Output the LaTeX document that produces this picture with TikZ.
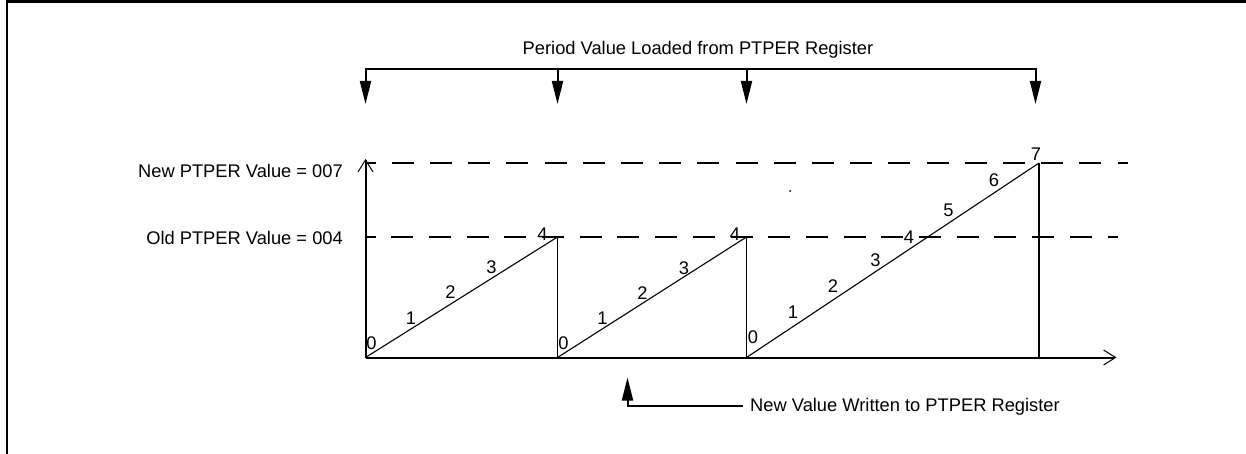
\documentclass[tikz,border=0pt]{standalone}
\usepackage{fontspec}
\setmainfont{Liberation Sans}
\usetikzlibrary{arrows.meta}
\begin{document}
\begin{tikzpicture}[x=1pt,y=-1pt,
  lbl/.style={inner sep=0pt, font=\fontsize{18.3}{22}\selectfont},
  ax/.style={line width=2pt, -{Straight Barb[length=12pt,width=15pt,line width=1pt]}},
  ramp/.style={line width=1.1pt},
  edge/.style={line width=1.5pt},
  refa/.style={line width=2pt, dash pattern=on 22pt off 16.2pt, dash phase=12pt},
  refb/.style={line width=2pt, dash pattern=on 22pt off 15.7pt, dash phase=12pt},
  pointer/.style={line width=2pt, -{Triangle[length=23pt,width=11pt]}},
  wire/.style={line width=2pt},
]
\useasboundingbox (0,0) rectangle (1246,454);
% frame (only top and left edges visible)
\draw[line width=2.5pt] (7,470) -- (7,1.5);
\draw[line width=3pt] (5.75,1.5) -- (1260,1.5);

% axis coordinates
\coordinate (O) at (365.5,357.5);
\coordinate (Ytip) at (365.5,159);
\coordinate (Xtip) at (1116.5,357.5);
\draw[ax] (O) -- (Ytip);
\draw[ax] (O) -- (Xtip);

% reference levels
\coordinate (N0) at (365.5,163);
\coordinate (N1) at (1128,163);
\coordinate (D0) at (365.5,237);
\coordinate (D1) at (1118,237);
\draw[refa] (N0) -- (N1);
\draw[refb] (D0) -- (D1);

\node[lbl, anchor=base east] (newv) at (343,178) {New PTPER Value = 007};
\node[lbl, anchor=base east] (oldv) at (343,244) {Old PTPER Value = 004};

% ramps
\coordinate (A0) at (365.5,357.5);
\coordinate (A1) at (557.5,237);
\coordinate (A1b) at (557.5,357.5);
\coordinate (B1) at (746.5,237);
\coordinate (B1b) at (746.5,357.5);
\coordinate (C1) at (1039,163);
\coordinate (C1b) at (1039,357.5);
\draw[ramp] (A0) -- (A1);
\draw[edge] (A1) -- (A1b);
\draw[ramp] (A1b) -- (B1);
\draw[edge] (B1) -- (B1b);
\draw[ramp] (B1b) -- (C1);
\draw[wire] (C1) -- (C1b);

% counts
\node[lbl] (a0) at (371.5,343) {0};
\node[lbl] (a1) at (411,318) {1};
\node[lbl] (a2) at (450.5,292.5) {2};
\node[lbl] (a3) at (491.5,267.5) {3};
\node[lbl] (a4) at (542.5,234.5) {4};
\node[lbl] (b0) at (563.5,343) {0};
\node[lbl] (b1) at (602.5,318) {1};
\node[lbl] (b2) at (642.5,293) {2};
\node[lbl] (b3) at (684,268) {3};
\node[lbl] (b4) at (735,234.5) {4};
\node[lbl] (c0) at (753,337) {0};
\node[lbl] (c1) at (793,312) {1};
\node[lbl] (c2) at (833,286) {2};
\node[lbl] (c3) at (875.5,260) {3};
\node[lbl] (c4) at (909,237) {4};
\node[lbl] (c5) at (948.5,210.5) {5};
\node[lbl] (c6) at (994,180.5) {6};
\node[lbl] (c7) at (1036,154.5) {7};

% stray dot
\fill (790,191) circle (1pt);

% top: period value loaded
\node[lbl, anchor=base] (title) at (698,55) {Period Value Loaded from PTPER Register};
\coordinate (T1) at (365.5,69.5);
\coordinate (T2) at (557.5,69.5);
\coordinate (T3) at (746.5,69.5);
\coordinate (T4) at (1035.5,69.5);
\coordinate (P1) at (365.5,104);
\coordinate (P2) at (557.5,104);
\coordinate (P3) at (746.5,104);
\coordinate (P4) at (1035.5,104);
\draw[wire] ([xshift=-1pt]T1) -- ([xshift=1pt]T4);
\draw[pointer] (T1) -- (P1);
\draw[pointer] (T2) -- (P2);
\draw[pointer] (T3) -- (P3);
\draw[pointer] (T4) -- (P4);

% bottom: new value written
\node[lbl, anchor=base west] (written) at (750,411) {New Value Written to PTPER Register};
\coordinate (W0) at (743,405.7);
\coordinate (W1) at (627.5,405.7);
\coordinate (W2) at (627.5,377.5);
\draw[pointer] (W0) -- (W1) -- (W2);
\end{tikzpicture}
\end{document}
